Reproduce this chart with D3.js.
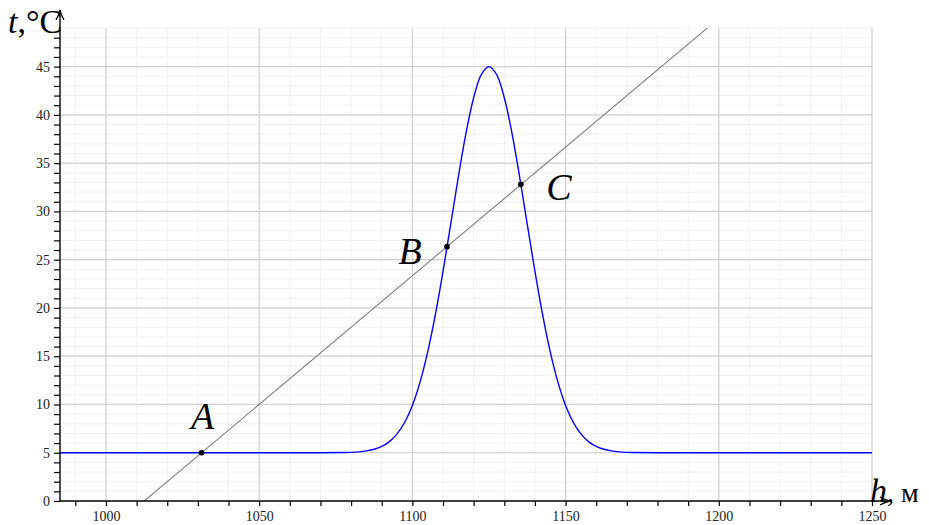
<!DOCTYPE html>
<html><head><meta charset="utf-8">
<script src="https://cdn.jsdelivr.net/npm/d3@7"></script>
<style>
body{margin:0;background:#fff;}
svg{display:block;}
text{font-family:"Liberation Serif","DejaVu Serif",serif;}
</style></head>
<body>
<script>
// ---- data ----
const xMajorTicks = [1000, 1050, 1100, 1150, 1200, 1250];
const yMajorTicks = [0, 5, 10, 15, 20, 25, 30, 35, 40, 45];
const curveH = [985, 1070, 1077.5, 1080, 1082.5, 1085, 1087.5, 1090, 1092.5, 1095, 1097.5, 1100, 1102.5, 1105, 1107.5, 1110, 1112.5, 1115, 1117.5, 1120, 1122.5, 1125,
  1127.5, 1130, 1132.5, 1135, 1137.5, 1140, 1142.5, 1145, 1147.5, 1150, 1152.5, 1155, 1157.5, 1160, 1162.5, 1165, 1167.5, 1170, 1172.5, 1180, 1250];
const curveT = [5, 5.00, 5.02, 5.04, 5.09, 5.19, 5.36, 5.65, 6.15, 6.95, 8.16, 9.90, 12.31, 15.44, 19.30, 23.78, 28.66, 33.58, 38.11, 41.78, 44.17, 45,
  44.17, 41.78, 38.11, 33.58, 28.66, 23.78, 19.30, 15.44, 12.31, 9.90, 8.16, 6.95, 6.15, 5.65, 5.36, 5.19, 5.09, 5.04, 5.02, 5.00, 5];
const lineH = [1012.5, 1200];
const lineT = [0, 50];
const pointNames = ["A", "B", "C"];
const pointH = [1031.2, 1111.3, 1135.4];
const pointT = [5, 26.35, 32.8];

// ---- layout ----
const W = 929, H = 525;
const L = 60, R = 872, T = 28, B = 501;
const x = d3.scaleLinear().domain([985, 1250]).range([L, R]);
const y = d3.scaleLinear().domain([0, 49]).range([B, T]);

const svg = d3.select("body").append("svg").attr("width", W).attr("height", H);

// minor grid
const g = svg.append("g");
g.selectAll("line.vmin").data(d3.range(990, 1251, 10)).join("line")
  .attr("x1", d => x(d)).attr("x2", d => x(d)).attr("y1", T).attr("y2", B)
  .attr("stroke", "#f1f1f1").attr("stroke-width", 1);
g.selectAll("line.hmin").data(d3.range(1, 50, 1)).join("line")
  .attr("y1", d => y(d)).attr("y2", d => y(d)).attr("x1", L).attr("x2", R)
  .attr("stroke", "#f1f1f1").attr("stroke-width", 1);
// major grid
g.selectAll("line.vmaj").data(xMajorTicks).join("line")
  .attr("x1", d => x(d)).attr("x2", d => x(d)).attr("y1", T).attr("y2", B)
  .attr("stroke", "#d0d0d0").attr("stroke-width", 1.2);
g.selectAll("line.hmaj").data(yMajorTicks.slice(1)).join("line")
  .attr("y1", d => y(d)).attr("y2", d => y(d)).attr("x1", L).attr("x2", R)
  .attr("stroke", "#d0d0d0").attr("stroke-width", 1.2);

// clip
svg.append("clipPath").attr("id", "clip").append("rect")
  .attr("x", L).attr("y", T).attr("width", R - L).attr("height", B - T);

const plot = svg.append("g").attr("clip-path", "url(#clip)");

// straight line
plot.append("path")
  .datum(lineH.map((h, i) => [h, lineT[i]]))
  .attr("d", d3.line().x(d => x(d[0])).y(d => y(d[1])))
  .attr("fill", "none").attr("stroke", "#808080").attr("stroke-width", 1.1);

// curve
plot.append("path")
  .datum(curveH.map((h, i) => [h, curveT[i]]))
  .attr("d", d3.line().x(d => x(d[0])).y(d => y(d[1])).curve(d3.curveCatmullRom))
  .attr("fill", "none").attr("stroke", "#0000ff").attr("stroke-width", 1.4);

// axes
const xAxis = d3.axisBottom(x).tickValues(d3.range(990, 1251, 10)).tickSize(5)
  .tickFormat(d => xMajorTicks.includes(d) ? d : "");
const ax = svg.append("g").attr("transform", `translate(0,${B})`).call(xAxis);
ax.select(".domain").remove();
ax.selectAll(".tick line").attr("stroke", "#000").attr("stroke-width", 1.2);
ax.selectAll(".tick text").attr("font-size", 14).attr("y", 10).attr("dy", "0.71em")
  .attr("font-family", "Liberation Serif").attr("fill", "#222");

const yAxis = d3.axisLeft(y).tickValues(d3.range(0, 49, 1)).tickSize(6)
  .tickFormat(d => yMajorTicks.includes(d) ? d : "");
const ay = svg.append("g").attr("transform", `translate(${L},0)`).call(yAxis);
ay.select(".domain").remove();
ay.selectAll(".tick line").attr("stroke", "#000").attr("stroke-width", 1.2);
ay.selectAll(".tick text").attr("font-size", 14).attr("x", -10)
  .attr("font-family", "Liberation Serif").attr("fill", "#222");

// axis lines with arrows
svg.append("line").attr("x1", L).attr("x2", L).attr("y1", B).attr("y2", 12)
  .attr("stroke", "#000").attr("stroke-width", 1.4);
svg.append("path").attr("d", `M${L-4},${20} Q${L-1},${15} ${L},${10} Q${L+1},${15} ${L+4},${20}`)
  .attr("fill", "none").attr("stroke", "#000").attr("stroke-width", 1.3);
svg.append("line").attr("x1", L).attr("x2", 888).attr("y1", B).attr("y2", B)
  .attr("stroke", "#000").attr("stroke-width", 1.4);
svg.append("path").attr("d", `M${880},${B-4} Q${885},${B-1} ${890},${B} Q${885},${B+1} ${880},${B+4}`)
  .attr("fill", "none").attr("stroke", "#000").attr("stroke-width", 1.3);

// points
svg.selectAll("circle.pt").data(pointH).join("circle")
  .attr("cx", d => x(d)).attr("cy", (d, i) => y(pointT[i])).attr("r", 2.8).attr("fill", "#000");

// point labels
const labOff = [[1, -24], [-37, 17], [38, 16]];
svg.selectAll("text.lab").data(pointNames).join("text")
  .attr("x", (d, i) => x(pointH[i]) + labOff[i][0])
  .attr("y", (d, i) => y(pointT[i]) + labOff[i][1])
  .attr("text-anchor", "middle").attr("font-size", 38).attr("font-style", "italic")
  .text(d => d);

// axis titles
const tt = svg.append("text").attr("x", 8).attr("y", 33).attr("font-size", 34);
tt.append("tspan").attr("font-style", "italic").text("t");
tt.append("tspan").text(",°C");
const ht = svg.append("text").attr("x", 870).attr("y", 502).attr("font-size", 34);
ht.append("tspan").attr("font-style", "italic").text("h");
ht.append("tspan").attr("font-size", 28).text(", м");
</script>
</body></html>
